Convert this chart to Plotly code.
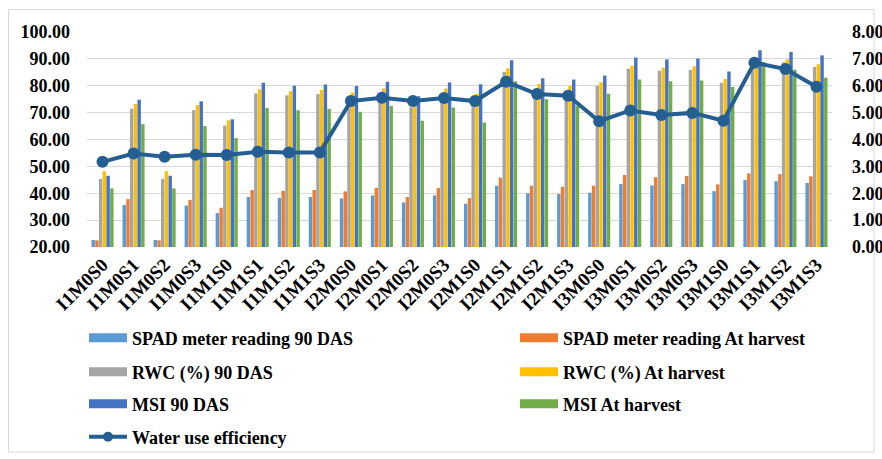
import plotly.graph_objects as go

categories = ["I1M0S0", "I1M0S1", "I1M0S2", "I1M0S3", "I1M1S0", "I1M1S1", "I1M1S2", "I1M1S3",
              "I2M0S0", "I2M0S1", "I2M0S2", "I2M0S3", "I2M1S0", "I2M1S1", "I2M1S2", "I2M1S3",
              "I3M0S0", "I3M0S1", "I3M0S2", "I3M0S3", "I3M1S0", "I3M1S1", "I3M1S2", "I3M1S3"]

spad_90 = [22.6, 35.6, 22.6, 35.4, 32.6, 38.6, 38.3, 38.6, 38.1, 39.2, 36.6, 39.2,
           36.1, 42.8, 40.0, 39.7, 40.2, 43.4, 42.9, 43.4, 40.8, 44.9, 44.5, 43.8]
spad_h = [22.5, 37.8, 22.5, 37.5, 34.6, 41.2, 40.9, 41.2, 40.7, 42.0, 38.6, 41.9,
          38.2, 45.8, 42.8, 42.4, 42.8, 46.8, 46.0, 46.4, 43.3, 47.4, 47.1, 46.3]
rwc_90 = [45.3, 71.4, 45.3, 70.9, 65.2, 77.1, 76.4, 76.9, 76.0, 77.0, 72.0, 77.0,
          74.0, 85.2, 79.0, 78.0, 80.0, 86.3, 85.6, 85.9, 81.1, 88.5, 88.7, 87.0]
rwc_h = [48.2, 73.2, 48.2, 72.8, 67.2, 78.7, 78.0, 78.4, 77.5, 79.0, 74.0, 79.0,
         77.0, 86.5, 80.7, 79.9, 81.3, 87.4, 86.7, 87.2, 82.5, 90.4, 89.9, 88.0]
msi_90 = [46.5, 74.8, 46.5, 74.2, 67.5, 81.1, 80.0, 80.5, 79.9, 81.5, 76.1, 81.2,
          80.6, 89.5, 82.8, 82.3, 83.8, 90.5, 89.8, 90.1, 85.3, 93.2, 92.6, 91.3]
msi_h = [41.8, 65.7, 41.8, 65.0, 60.5, 71.7, 70.9, 71.4, 70.3, 72.5, 67.0, 71.9,
         66.3, 81.7, 75.0, 72.5, 77.0, 82.3, 81.7, 82.0, 79.5, 88.7, 86.0, 83.0]
wue = [3.17, 3.48, 3.36, 3.43, 3.42, 3.54, 3.52, 3.52, 5.43, 5.55, 5.43, 5.54,
       5.43, 6.15, 5.69, 5.63, 4.68, 5.08, 4.91, 4.99, 4.70, 6.86, 6.62, 5.96]

series_names = ["SPAD meter reading 90 DAS", "SPAD meter reading At harvest",
                "RWC (%) 90 DAS", "RWC (%) At harvest",
                "MSI 90 DAS", "MSI At harvest"]
series_values = [spad_90, spad_h, rwc_90, rwc_h, msi_90, msi_h]
series_colors = ["#5B9BD5", "#ED7D31", "#A5A5A5", "#FFC000", "#4472C4", "#70AD47"]
line_name = "Water use efficiency"
line_color = "#255E91"

FONT = "Liberation Serif"

FIG_W, FIG_H = 882, 459
PL, PR, PT, PB = 87, 832, 32, 247
PW, PH = PR - PL, PB - PT


def px_x(p):
    return (p - PL) / PW


def px_y(p):
    return (PB - p) / PH


fig = go.Figure()
for name, vals, col in zip(series_names, series_values, series_colors):
    fig.add_trace(go.Bar(x=categories, y=vals, name=name, marker=dict(color=col, line=dict(width=0)),
                         showlegend=False))

fig.add_trace(go.Scatter(x=categories, y=wue, name=line_name, yaxis="y2", mode="lines+markers",
                         line=dict(color=line_color, width=4), marker=dict(size=12, color=line_color),
                         showlegend=False))

legend_font = dict(family=FONT, size=18, color="black", weight="bold")
rows_y = [338, 372, 404, 437]
cols_x = [84, 515]
legend_layouts = {}
k = 0
for i, (name, col) in enumerate(zip(series_names, series_colors)):
    k += 1
    lname = "legend" if k == 1 else f"legend{k}"
    fig.add_trace(go.Scatter(x=[None], y=[None], mode="lines", name=name,
                             line=dict(color=col, width=9), legend=lname, showlegend=True))
    legend_layouts[lname] = dict(x=px_x(cols_x[i % 2]), y=px_y(rows_y[i // 2]),
                                 xanchor="left", yanchor="middle", bgcolor="rgba(0,0,0,0)",
                                 itemwidth=38, font=legend_font)
k += 1
lname = f"legend{k}"
fig.add_trace(go.Scatter(x=[None], y=[None], mode="lines+markers", name=line_name,
                         line=dict(color=line_color, width=4), marker=dict(size=10, color=line_color),
                         legend=lname, showlegend=True))
legend_layouts[lname] = dict(x=px_x(cols_x[0]), y=px_y(rows_y[3]),
                             xanchor="left", yanchor="middle", bgcolor="rgba(0,0,0,0)",
                             itemwidth=38, font=legend_font)

tickfont = dict(family=FONT, size=18, color="black", weight="bold")
fig.update_layout(
    width=FIG_W, height=FIG_H,
    margin=dict(l=PL, r=FIG_W - PR, t=PT, b=FIG_H - PB, autoexpand=False),
    paper_bgcolor="white", plot_bgcolor="white",
    barmode="group", bargap=0.28, bargroupgap=0.08,
    xaxis=dict(type="category", categoryorder="array", categoryarray=categories,
               range=[-0.5, len(categories) - 0.5],
               tickangle=-45, tickfont=dict(family=FONT, size=19, color="black", weight="bold"),
               showgrid=False, showline=False, ticks="", ticklabelstandoff=2),
    yaxis=dict(range=[20, 100], dtick=10, tickformat=".2f", showgrid=True, gridcolor="#D9D9D9",
               gridwidth=1, zeroline=False, ticks="", tickfont=tickfont, ticklabelstandoff=16),
    yaxis2=dict(range=[0, 8], dtick=1, tickformat=".2f", overlaying="y", side="right",
                showgrid=False, zeroline=False, ticks="", tickfont=tickfont, ticklabelstandoff=19),
    shapes=[dict(type="rect", xref="paper", yref="paper",
                 x0=px_x(8.5), x1=px_x(874), y0=px_y(452), y1=px_y(9.5),
                 line=dict(color="#D9D9D9", width=1), fillcolor="rgba(0,0,0,0)", layer="below")],
    **legend_layouts,
)

fig.write_html("out.html", config={"displayModeBar": False},
               post_script="document.body.style.margin='0';document.body.style.overflow='hidden';")
